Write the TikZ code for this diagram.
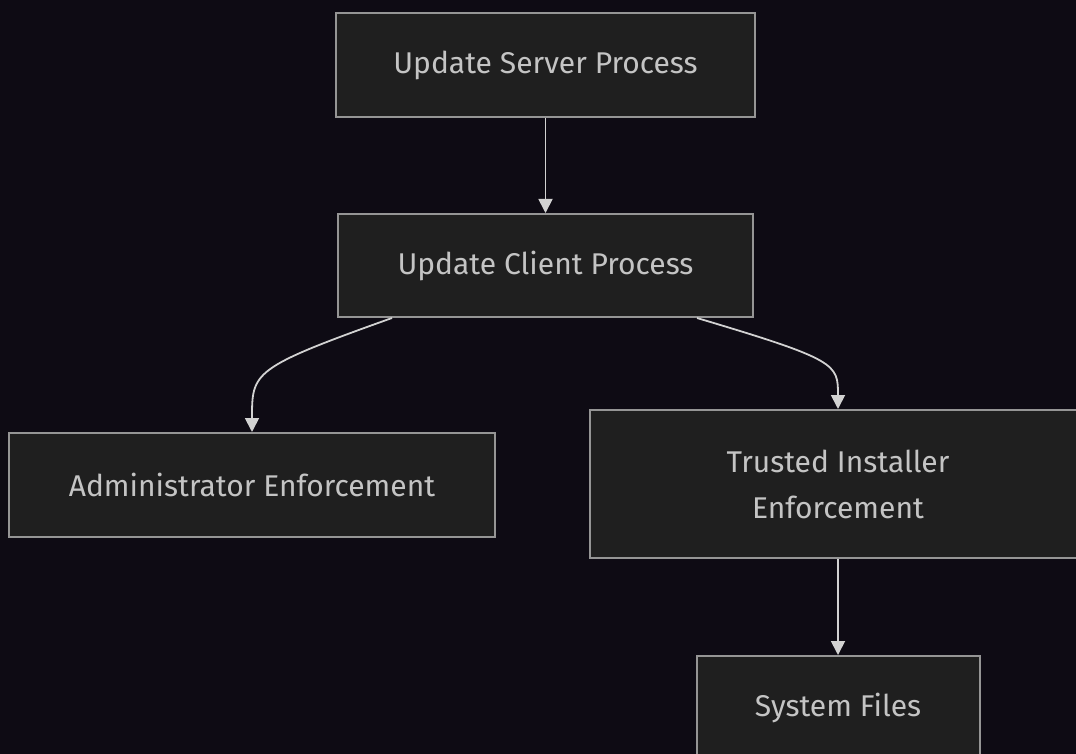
\documentclass[tikz,border=0pt]{standalone}
\usepackage{fontspec}
\setsansfont{Fira Sans}
\usepackage{xcolor}
\usetikzlibrary{arrows.meta, positioning}

\definecolor{bgdark}{HTML}{0E0B14}
\definecolor{boxfill}{HTML}{1F1F1F}
\definecolor{boxline}{HTML}{959595}
\definecolor{textgray}{HTML}{C4C4C4}
\definecolor{arrowgray}{HTML}{D2D2D2}

\begin{document}
\begin{tikzpicture}[
    font=\sffamily\fontsize{15}{23}\selectfont,
    line width=1pt,
    box/.style={
      rectangle,
      draw=boxline,
      fill=boxfill,
      text=textgray,
      align=center,
      inner sep=0pt,
      minimum height=52pt
    },
    arrowstyle/.style={
      draw=arrowgray,
      -{Triangle[length=7pt, width=7pt]},
      line width=0.9pt
    }
]

% background and frame
\fill[bgdark] (0pt,0pt) rectangle (538pt,-377pt);
\useasboundingbox (0pt,0pt) rectangle (538pt,-377pt);
\clip (0pt,0pt) rectangle (538pt,-377pt);

% 1. NODES
\node[box, minimum width=209.5pt] at (272.75pt,-32.5pt) (server) {Update Server Process};
\node[box, minimum width=207.5pt, minimum height=51.5pt, below=47.5pt of server] (client) {Update Client Process};
\node[box, minimum width=243pt] at (126pt,-242.5pt) (admin) {Administrator Enforcement};
\node[box, minimum width=248pt, minimum height=74pt] at (419pt,-242pt) (trusted) {Trusted Installer\\Enforcement};
\node[box, minimum width=141.5pt, below=48pt of trusted] (sysfiles) {System Files};

% 2. ARROWS
\draw[arrowstyle] (server) -- (client);
\coordinate (clientL) at ([xshift=-76.75pt]client.south);
\coordinate (clientR) at ([xshift=75.75pt]client.south);
\draw[arrowstyle] (clientL) .. controls (126pt,-184pt) and (126pt,-186pt) .. (admin.north);
\draw[arrowstyle] (clientR) .. controls (419pt,-180pt) and (419pt,-182pt) .. (trusted.north);
\draw[arrowstyle] (trusted) -- (sysfiles);

\end{tikzpicture}
\end{document}
